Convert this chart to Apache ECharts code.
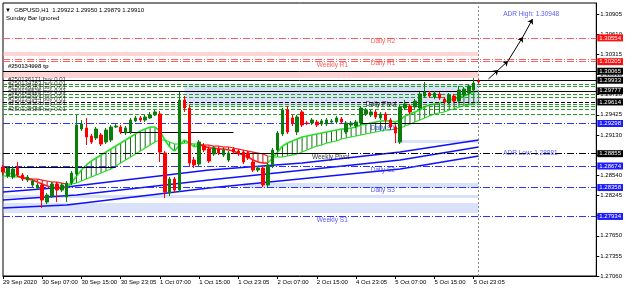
<!DOCTYPE html>
<html><head><meta charset="utf-8">
<script src="https://cdn.jsdelivr.net/npm/echarts@6/dist/echarts.min.js"></script>
<style>html,body{margin:0;padding:0;background:#fff}#c{width:625px;height:295px}</style>
</head><body><div id="c"></div>
<script>
// ---------- DATA ----------
const timeTickLabels = ['29 Sep 2020','30 Sep 07:00','30 Sep 15:00','30 Sep 23:05','1 Oct 07:00','1 Oct 15:00','1 Oct 23:05','2 Oct 07:00','2 Oct 15:00','4 Oct 23:05','5 Oct 07:00','5 Oct 15:00','5 Oct 23:05'];
const barsPerTick = 8;
const emptyBarsRight = 24;

const opens = [1.28659,1.28527,1.28513,1.28659,1.28542,1.28468,1.28395,1.28351,1.28395,1.28145,1.28233,1.28410,1.28321,1.28219,1.28424,1.28557,1.29217,1.29232,1.29114,1.29085,1.29129,1.29026,1.29055,1.29246,1.29246,1.29158,1.29173,1.29335,1.29379,1.29349,1.29379,1.29423,1.29437,1.28865,1.28277,1.28483,1.28321,1.29643,1.29525,1.28762,1.28703,1.28967,1.28923,1.28850,1.28923,1.28835,1.28762,1.28923,1.28894,1.28879,1.28865,1.28733,1.28615,1.28645,1.28395,1.28689,1.28909,1.29144,1.29496,1.29379,1.29173,1.29467,1.29305,1.29305,1.29320,1.29290,1.29290,1.29320,1.29320,1.29364,1.29173,1.29276,1.29261,1.29305,1.29437,1.29423,1.29467,1.29379,1.29437,1.29349,1.29246,1.29026,1.29525,1.29555,1.29540,1.29525,1.29701,1.29745,1.29687,1.29731,1.29657,1.29613,1.29701,1.29628,1.29716,1.29745,1.29789,1.29922];
const closes = [1.28586,1.28645,1.28630,1.28542,1.28483,1.28513,1.28454,1.28395,1.28175,1.28248,1.28410,1.28321,1.28395,1.28424,1.28571,1.29276,1.29290,1.29100,1.29026,1.29217,1.28997,1.29202,1.29246,1.29261,1.29173,1.29232,1.29349,1.29379,1.29349,1.29393,1.29423,1.29467,1.28879,1.28292,1.28483,1.28321,1.29643,1.29525,1.28718,1.28689,1.29026,1.28909,1.28747,1.28938,1.28865,1.28909,1.28865,1.28879,1.28850,1.28733,1.28791,1.28615,1.28645,1.28395,1.28689,1.28909,1.29158,1.29496,1.29173,1.29305,1.29393,1.29276,1.29300,1.29349,1.29276,1.29335,1.29349,1.29335,1.29379,1.29320,1.29305,1.29305,1.29320,1.29525,1.29496,1.29467,1.29393,1.29437,1.29349,1.29246,1.29158,1.29540,1.29584,1.29467,1.29628,1.29731,1.29760,1.29701,1.29745,1.29672,1.29613,1.29716,1.29628,1.29789,1.29804,1.29848,1.29892,1.29910];
const lows = [1.28542,1.28498,1.28483,1.28513,1.28454,1.28439,1.28366,1.28321,1.28057,1.28116,1.28204,1.28145,1.28292,1.28145,1.28395,1.28527,1.29188,1.28982,1.28997,1.29055,1.28967,1.28997,1.29026,1.29232,1.29144,1.29129,1.29144,1.29320,1.29320,1.29320,1.29364,1.29408,1.28733,1.28204,1.28233,1.28277,1.28292,1.29467,1.28674,1.28645,1.28659,1.28879,1.28718,1.28821,1.28835,1.28806,1.28733,1.28850,1.28821,1.28703,1.28762,1.28586,1.28586,1.28366,1.28366,1.28645,1.28879,1.29114,1.29144,1.29261,1.29129,1.29246,1.29276,1.29276,1.29246,1.29261,1.29261,1.29290,1.29290,1.29290,1.29144,1.29246,1.29232,1.29276,1.29408,1.29393,1.29364,1.29349,1.29320,1.29202,1.29011,1.28997,1.29496,1.29437,1.29511,1.29496,1.29672,1.29672,1.29657,1.29643,1.29584,1.29584,1.29599,1.29599,1.29687,1.29716,1.29760,1.29879];
const highs = [1.28689,1.28674,1.28659,1.28733,1.28571,1.28542,1.28483,1.28424,1.28424,1.28277,1.28439,1.28439,1.28424,1.28454,1.28601,1.29423,1.29349,1.29379,1.29144,1.29246,1.29158,1.29232,1.29276,1.29290,1.29276,1.29261,1.29379,1.29408,1.29408,1.29423,1.29467,1.29496,1.29481,1.28894,1.28513,1.28513,1.29760,1.29701,1.29569,1.28806,1.29055,1.29011,1.28953,1.28967,1.28953,1.28938,1.28894,1.28953,1.28923,1.28909,1.28894,1.28762,1.28674,1.28674,1.28718,1.28938,1.29188,1.29525,1.29555,1.29423,1.29423,1.29496,1.29335,1.29379,1.29349,1.29364,1.29379,1.29364,1.29408,1.29393,1.29335,1.29335,1.29349,1.29555,1.29525,1.29496,1.29496,1.29467,1.29467,1.29379,1.29276,1.29569,1.29643,1.29584,1.29657,1.29760,1.29907,1.29775,1.29775,1.29760,1.29687,1.29745,1.29731,1.29848,1.29833,1.29877,1.29965,1.29950];

// two smoothed trend lines and their colour state (+1 up / -1 down)
const fastLine = [1.28586,1.28571,1.28557,1.28527,1.28498,1.28483,1.28468,1.28439,1.28410,1.28380,1.28366,1.28351,1.28351,1.28366,1.28424,1.28527,1.28615,1.28689,1.28747,1.28791,1.28835,1.28879,1.28923,1.28967,1.29011,1.29055,1.29100,1.29144,1.29188,1.29217,1.29246,1.29246,1.29188,1.29055,1.28953,1.28894,1.28982,1.29055,1.29011,1.28953,1.28982,1.28967,1.28938,1.28938,1.28923,1.28923,1.28909,1.28894,1.28865,1.28835,1.28806,1.28762,1.28733,1.28718,1.28718,1.28791,1.28879,1.28967,1.29011,1.29041,1.29070,1.29100,1.29114,1.29129,1.29144,1.29158,1.29173,1.29188,1.29202,1.29217,1.29217,1.29232,1.29246,1.29276,1.29290,1.29305,1.29320,1.29335,1.29335,1.29335,1.29320,1.29349,1.29408,1.29437,1.29467,1.29496,1.29540,1.29569,1.29584,1.29599,1.29613,1.29643,1.29657,1.29687,1.29701,1.29731,1.29760,1.29775];
const slowLine = [1.28527,1.28527,1.28513,1.28513,1.28513,1.28498,1.28483,1.28483,1.28468,1.28454,1.28439,1.28439,1.28424,1.28410,1.28410,1.28424,1.28454,1.28483,1.28513,1.28542,1.28571,1.28601,1.28630,1.28674,1.28718,1.28762,1.28806,1.28850,1.28894,1.28938,1.28982,1.29026,1.29055,1.29055,1.29026,1.28997,1.28997,1.29011,1.29011,1.28997,1.28997,1.28982,1.28982,1.28967,1.28967,1.28953,1.28953,1.28938,1.28923,1.28909,1.28894,1.28879,1.28865,1.28850,1.28821,1.28806,1.28806,1.28806,1.28821,1.28835,1.28850,1.28879,1.28909,1.28938,1.28967,1.28982,1.29011,1.29026,1.29041,1.29070,1.29085,1.29100,1.29114,1.29129,1.29144,1.29158,1.29173,1.29188,1.29202,1.29202,1.29217,1.29232,1.29261,1.29290,1.29320,1.29349,1.29379,1.29408,1.29437,1.29452,1.29467,1.29496,1.29511,1.29540,1.29555,1.29569,1.29599,1.29613];
const trendState = [1,1,1,1,-1,-1,-1,-1,-1,-1,-1,-1,-1,-1,1,1,1,1,1,1,1,1,1,1,1,1,1,1,1,1,1,1,1,1,1,1,1,1,1,1,1,-1,-1,-1,-1,-1,-1,-1,-1,-1,-1,-1,-1,-1,-1,1,1,1,1,1,1,1,1,1,1,1,1,1,1,1,1,1,1,1,1,1,1,1,1,1,1,1,1,1,1,1,1,1,1,1,1,1,1,1,1,1,1,1];

// rising blue channel lines: [barIndex, price]
const blueLine1 = [[0,1.28292],[13,1.28366],[42,1.28615],[61,1.28718],[81,1.28879],[97,1.29055]];
const blueLine2 = [[0,1.28175],[15,1.28248],[42,1.28468],[81,1.28762],[97,1.28953]];
const blueLine3 = [[0,1.28057],[13,1.28101],[42,1.28351],[81,1.28630],[97,1.28821]];

// price axis tick labels
const priceTickValues = [1.27060,1.27355,1.27650,1.27945,1.28245,1.28540,1.28835,1.29130,1.29425,1.29720,1.30015,1.30315,1.30610,1.30905];
const priceTickLabels = ['1.27060','1.27355','1.27650','1.27945','1.28245','1.28540','1.28835','1.29130','1.29425','1.29720','1.30015','1.30315','1.30610','1.30905'];

// horizontal levels
const redLevels = [1.30554, 1.30240, 1.30205];
const blackSolidLevels = [1.30065, 1.29933, 1.29777];
const blackDashLevels = [1.29614];
const orderLevels = [1.29877, 1.29848, 1.29731, 1.29687, 1.29584, 1.29555, 1.29511, 1.29437];
const blueLevels = [1.29298, 1.28674, 1.28358, 1.27934];
const pivotLevels = [1.28855];
const boxedPrices = [1.30554, 1.30205, 1.30065, 1.29933, 1.29777, 1.29614, 1.29298, 1.28855, 1.28674, 1.28358, 1.27934];

// zones [fromBar, toBar, top, bottom]
const pinkZones = [[0,97,1.30347,1.30288],[0,97,1.30068,1.29965]];
const blueZones = [[37,97,1.29877,1.29555],[80,97,1.29055,1.29011],[49,97,1.28424,1.28351],[0,97,1.28248,1.28204],[0,97,1.28131,1.27984]];

// black horizontal segments [fromBar, toBar, price]
const blackSegments = [[0,23,1.28659],[24,47,1.29173],[48,70,1.28865],[73,95,1.29305]];

// text labels [text, barIndex, price, colour]
const levelTexts = [
  ['Daily R2',75,1.30509,'#ff3030'],['Weekly R1',64,1.30156,'#ff3030'],['Daily R1',75,1.30186,'#ff3030'],
  ['Daily Pivot',74,1.29584,'#000'],['Daily S1',75,1.29232,'#3030ff'],['Weekly Pivot',63,1.28806,'#000'],
  ['Daily S2',75,1.28615,'#3030ff'],['Daily S3',75,1.28321,'#3030ff'],['Weekly S1',64,1.27881,'#3030ff'],
  ['ADR High: 1.30948',102,1.30905,'#3030ff'],['ADR Low: 1.28881',102,1.28865,'#3030ff']];
const orderTexts = [
  ['#250134998 tp',1.30142],['#250136171 buy 0.01',1.29951],['#250134783 buy 0.01',1.29892],
  ['#250136283 buy 0.01',1.29833],['#250125525 buy 0.01',1.29775],['#250125869 buy 0.01',1.29716],
  ['#250135944 buy 0.01',1.29657],['#250124568 buy 0.01',1.29599],['#250128588 buy 0.01',1.29511]];

// hand-drawn arrows [fromBar, fromPrice, toBar, toPrice]
const arrows = [[99,1.29951,101,1.30084],[101,1.30084,103,1.30216],[103,1.30216,106,1.30567],[106,1.30567,108,1.30831]];

// ---------- CHART ----------
const FONT = 'Liberation Sans';
const nCat = opens.length + emptyBarsRight;
const categories = [];
for (let i = 0; i < nCat; i++) categories.push('b' + i);
const isTick = i => i % barsPerTick === 0 && i / barsPerTick < timeTickLabels.length;

const dashDot = [7,2,1,2];
function hLines(vals, color, type, boxColor) {
  return vals.map(v => {
    const item = {yAxis: v, lineStyle: {color: color, type: type, width: 1}};
    if (boxedPrices.indexOf(v) >= 0) {
      item.label = {show:true, position:'end', distance:1, formatter: v.toFixed(5), color:'#fff',
        backgroundColor: boxColor, padding:[1,2,0,2], fontSize:6, fontFamily:FONT};
    }
    return item;
  });
}
const levelLines = [].concat(
  hLines(redLevels, '#ff6060', dashDot, '#ff1010'),
  hLines(blackSolidLevels, '#000', 'solid', '#000'),
  hLines(blackDashLevels, '#000', [4,2], '#000'),
  hLines(orderLevels, '#2a9a2a', [4,2], '#2a9a2a'),
  hLines(blueLevels, '#3030ff', dashDot, '#1c1cff'),
  hLines(pivotLevels, '#000', dashDot, '#000')
);

const chart = echarts.init(document.getElementById('c'), null, {renderer:'canvas'});
chart.setOption({
  animation:false,
  backgroundColor:'#fff',
  grid:{left:2, right:28, top:3, bottom:19, show:true, borderColor:'#000', borderWidth:1, backgroundColor:'#fff'},
  graphic:[
    {type:'text', left:5, top:7, style:{text:'\u25BC  GBPUSD,H1  1.29922 1.29950 1.29879 1.29910', font:'6px '+FONT, fill:'#000'}},
    {type:'text', left:6, top:15, style:{text:'Sunday Bar Ignored', font:'6px '+FONT, fill:'#000'}}
  ],
  xAxis:{type:'category', data:categories, boundaryGap:false,
    axisLine:{show:true, lineStyle:{color:'#000'}},
    axisTick:{show:true, interval:(i)=>isTick(i), length:3, lineStyle:{color:'#000'}},
    axisLabel:{interval:(i)=>isTick(i), formatter:(v,i)=>isTick(i)?timeTickLabels[i/barsPerTick]:'',
      align:'left', margin:3, fontSize:6, fontFamily:FONT, color:'#000'},
    splitLine:{show:false}},
  yAxis:{type:'value', position:'right', min:1.27060, max:1.31066, scale:true,
    axisLine:{show:true, lineStyle:{color:'#000'}},
    axisTick:{show:true, customValues:priceTickValues, length:3, lineStyle:{color:'#000'}},
    axisLabel:{customValues:priceTickValues, formatter:(v)=>{
        let best=0; for(let k=1;k<priceTickValues.length;k++) if(Math.abs(priceTickValues[k]-v)<Math.abs(priceTickValues[best]-v)) best=k;
        return priceTickLabels[best];}, margin:4, fontSize:6, fontFamily:FONT, color:'#000'},
    splitLine:{show:false}},
  series:[
    {type:'line', name:'zones', data:[], silent:true, z:1,
      markArea:{silent:true, data:
        pinkZones.map(z=>[{xAxis:z[0], yAxis:z[2], itemStyle:{color:'rgba(255,170,170,0.5)'}},{xAxis:z[1], yAxis:z[3]}]).concat(
        blueZones.map(z=>[{xAxis:z[0], yAxis:z[2], itemStyle:{color:'rgba(170,190,240,0.45)'}},{xAxis:z[1], yAxis:z[3]}]))},
      markLine:{silent:true, precision:5, symbol:['none','none'], label:{show:false}, data: levelLines.concat(
        blackSegments.map(s=>[{coord:[s[0],s[2]], lineStyle:{color:'#000',type:'solid',width:1}},{coord:[s[1],s[2]]}])).concat(
        [{xAxis:97, lineStyle:{color:'#888', type:[2,2], width:1}}])}
    },
    {type:'line', name:'blue1', data:blueLine1, showSymbol:false, symbol:'none', lineStyle:{color:'#1010ff', width:1.5}, z:2},
    {type:'line', name:'blue2', data:blueLine2, showSymbol:false, symbol:'none', lineStyle:{color:'#1010ff', width:1.5}, z:2},
    {type:'line', name:'blue3', data:blueLine3, showSymbol:false, symbol:'none', lineStyle:{color:'#1010ff', width:1.5}, z:2},
    {type:'custom', name:'trend', z:3, data: fastLine.map((f,i)=>[i, f, slowLine[i], trendState[i]]),
      encode:{x:0, y:[1,2]},
      renderItem:(params, api)=>{
        const i = api.value(0);
        const up = api.value(3) > 0;
        const col = up ? '#22e022' : '#ff1a1a';
        const hat = up ? '#1b6e1b' : '#b01010';
        const f = api.coord([i, api.value(1)]);
        const s = api.coord([i, api.value(2)]);
        const ch = [{type:'line', shape:{x1:f[0],y1:f[1],x2:s[0],y2:s[1]}, style:{stroke:hat, lineWidth:1}}];
        if (i > 0) {
          const pf = api.coord([i-1, fastLine[i-1]]);
          const ps = api.coord([i-1, slowLine[i-1]]);
          ch.push({type:'line', shape:{x1:pf[0],y1:pf[1],x2:f[0],y2:f[1]}, style:{stroke:col, lineWidth:1.6}});
          ch.push({type:'line', shape:{x1:ps[0],y1:ps[1],x2:s[0],y2:s[1]}, style:{stroke:col, lineWidth:1.2}});
        }
        return {type:'group', children:ch};
      }},
    {type:'candlestick', name:'GBPUSD', z:5, barWidth:3,
      data: opens.map((o,i)=>[o, closes[i], lows[i], highs[i]]),
      itemStyle:{color:'#0b7d0b', color0:'#ff0000', borderColor:'#0b7d0b', borderColor0:'#ff0000', borderWidth:1}},
    {type:'scatter', name:'levelTexts', symbolSize:0, z:6, silent:true,
      data: levelTexts.map(t=>({value:[t[1], t[2]], label:{show:true, formatter:t[0], position:'right', distance:0,
        color:t[3], fontSize:6.5, fontFamily:FONT}}))},
    {type:'scatter', name:'orderTexts', symbolSize:0, z:6, silent:true,
      data: orderTexts.map((t,k)=>({value:[1, t[1]], label:{show:true, formatter:t[0], position:'right', distance:0,
        color:'#000', fontSize:6, fontFamily:FONT, fontWeight:k===0?'bold':'normal'}}))},
    {type:'lines', name:'drawing', coordinateSystem:'cartesian2d', z:6, silent:true,
      symbol:['none','arrow'], symbolSize:5,
      lineStyle:{color:'#000', width:1, opacity:1},
      data: arrows.map(a=>({coords:[[a[0],a[1]],[a[2],a[3]]]}))}
  ]
});
</script></body></html>
